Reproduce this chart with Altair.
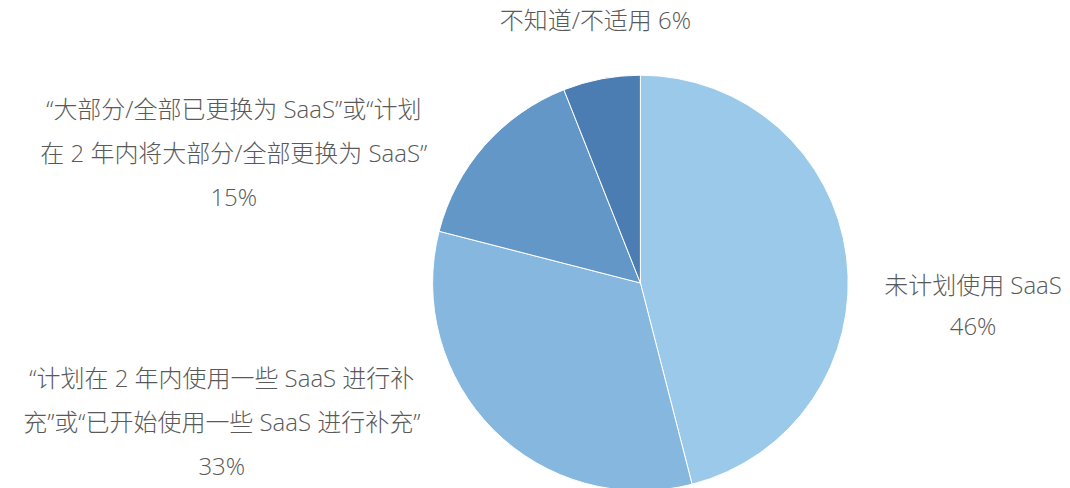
import altair as alt
import pandas as pd

# ---- data ----
categories = [
    "未计划使用 SaaS",
    "“计划在 2 年内使用一些 SaaS 进行补充”或“已开始使用一些 SaaS 进行补充”",
    "“大部分/全部已更换为 SaaS”或“计划在 2 年内将大部分/全部更换为 SaaS”",
    "不知道/不适用",
]
values = [46, 33, 15, 6]
label_lines = [
    ["未计划使用 SaaS", "46%"],
    ["“计划在 2 年内使用一些 SaaS 进行补", "充”或“已开始使用一些 SaaS 进行补充”", "33%"],
    ["“大部分/全部已更换为 SaaS”或“计划", "在 2 年内将大部分/全部更换为 SaaS”", "15%"],
    ["不知道/不适用 6%"],
]
colors = ["#9BC9E9", "#85B7DF", "#6297C8", "#4C7DB2"]

df = pd.DataFrame({"category": categories, "value": values, "order": list(range(len(values)))})

# ---- layout (styling) ----
W, H = 1054, 472
CX, CY, R = 633, 275, 208
label_xy = [(966, 279), (214, 372), (226, 103), (588, 14)]  # first-line centres
label_lh = [41, 44, 44, 44]
FONT = "Open Sans, Noto Sans CJK SC"
TEXT_COLOR = "#595959"

pie = alt.Chart(df).mark_arc(outerRadius=R, stroke="white", strokeWidth=1).encode(
    theta=alt.Theta("value:Q", stack=True),
    order=alt.Order("order:Q"),
    color=alt.Color("category:N", scale=alt.Scale(domain=categories, range=colors), legend=None),
    x=alt.value(CX),
    y=alt.value(CY),
)

layers = [pie]
for lines, (lx, ly), lh in zip(label_lines, label_xy, label_lh):
    t = alt.Chart(pd.DataFrame({"t": ["\n".join(lines)]})).mark_text(
        font=FONT, fontSize=24, fontWeight=300, color=TEXT_COLOR,
        align="center", baseline="middle", lineBreak="\n", lineHeight=lh,
    ).encode(text="t:N", x=alt.value(lx), y=alt.value(ly))
    layers.append(t)

chart = alt.layer(*layers).properties(width=W, height=H).configure(padding=0).configure_view(stroke=None)

chart.save("out.html", embed_options={"renderer": "svg", "actions": False})
